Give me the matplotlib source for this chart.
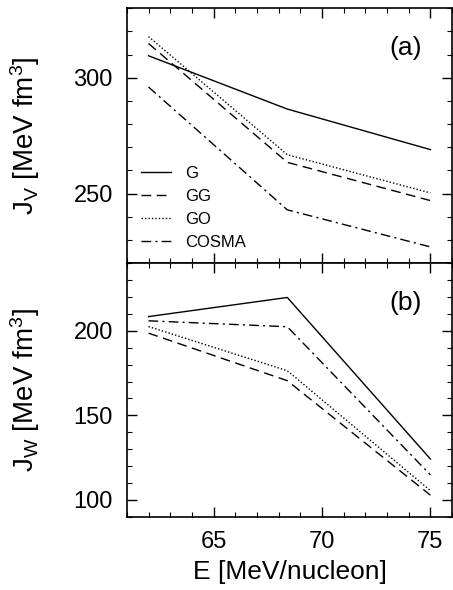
import numpy as np
from matplotlib import pyplot as plt
from matplotlib.ticker import MultipleLocator

plt.rcParams['font.family'] = ['Liberation Sans', 'DejaVu Sans']
plt.rcParams['mathtext.fontset'] = 'custom'
plt.rcParams['mathtext.rm'] = 'Liberation Sans'
plt.rcParams['mathtext.it'] = 'Liberation Sans'

# energies
energy = [62, 68.4, 75]
models = ["G", "GG", "GO", "COSMA"]

# volume integrals, real part
jv_g = [309.5, 286.5, 269]
jv_gg = [314.8, 263.5, 247]
jv_go = [317.8, 266.8, 250.3]
jv_cosma = [296, 243, 227]

# volume integrals, imaginary part
jw_g = [208.4, 219.7, 124.2]
jw_gg = [198.6, 170.5, 102.8]
jw_go = [202.5, 176.4, 105.5]
jw_cosma = [205.9, 202.4, 114.8]

styles = ["-", (0, (7, 4)), (0, (1, 1.5)), (0, (7, 3, 1.5, 3))]

fig = plt.figure(figsize=(4.53, 5.90), dpi=100)
ax1 = fig.add_axes([0.280, 0.554, 0.718, 0.432])
ax2 = fig.add_axes([0.280, 0.124, 0.718, 0.430], sharex=ax1)

for ys, ls, lab in zip([jv_g, jv_gg, jv_go, jv_cosma], styles, models):
    ax1.plot(energy, ys, color="k", linestyle=ls, lw=1.0, label=lab)
for ys, ls in zip([jw_g, jw_gg, jw_go, jw_cosma], styles):
    ax2.plot(energy, ys, color="k", linestyle=ls, lw=1.0)

ax1.set_ylim(220, 330)
ax2.set_ylim(90, 240)
ax1.set_xlim(61, 76)

for ax in (ax1, ax2):
    ax.xaxis.set_major_locator(MultipleLocator(5))
    ax.xaxis.set_minor_locator(MultipleLocator(1))
    ax.yaxis.set_major_locator(MultipleLocator(50))
    ax.yaxis.set_minor_locator(MultipleLocator(10))
    ax.tick_params(which="both", direction="in", top=True, right=True, labelsize=17, pad=10)
    ax.tick_params(which="major", length=7, width=1.0)
    ax.tick_params(which="minor", length=3.6, width=0.8)
    for s in ax.spines.values():
        s.set_linewidth(1.2)
ax1.tick_params(labelbottom=False)

ax1.set_ylabel(r"J$_\mathrm{V}$ [MeV fm$^3$]", fontsize=20)
ax2.set_ylabel(r"J$_\mathrm{W}$ [MeV fm$^3$]", fontsize=20)
ax2.set_xlabel("E [MeV/nucleon]", fontsize=19, labelpad=5)
ax1.yaxis.set_label_coords(-0.26, 0.5)
ax2.yaxis.set_label_coords(-0.26, 0.5)

ax1.text(0.908, 0.818, "(a)", transform=ax1.transAxes, fontsize=19, ha="right", va="baseline")
ax2.text(0.908, 0.817, "(b)", transform=ax2.transAxes, fontsize=19, ha="right", va="baseline")

ax1.legend(loc="lower left", bbox_to_anchor=(0.045, 0.052), frameon=False, fontsize=12,
           handlelength=1.8, handletextpad=0.8, labelspacing=0.48, borderpad=0, borderaxespad=0)

plt.savefig("out.png", dpi=100)
